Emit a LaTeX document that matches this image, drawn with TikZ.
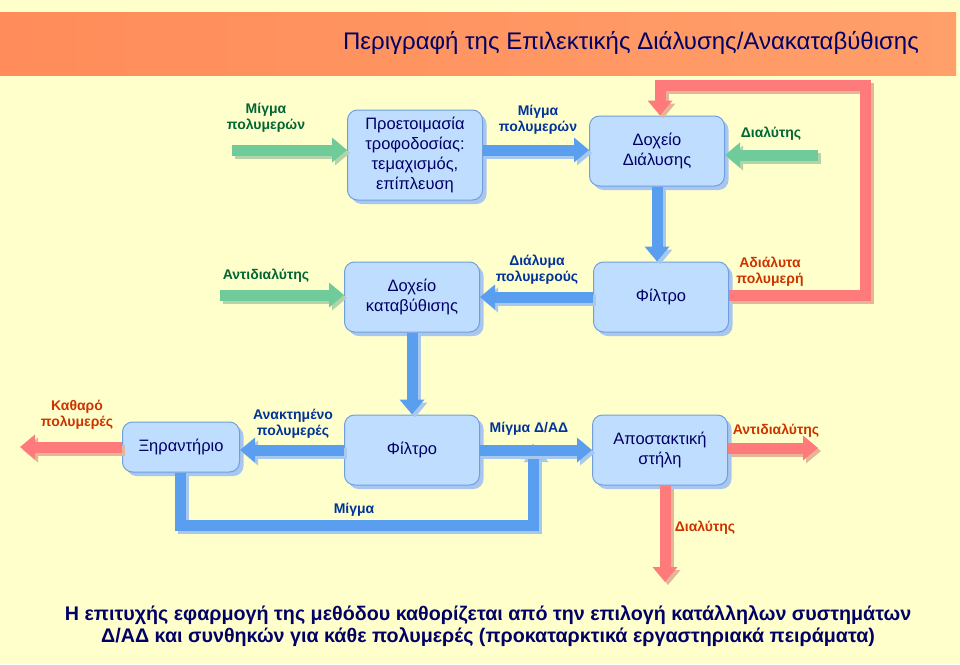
\documentclass[tikz,border=0pt]{standalone}
\usepackage{fontspec}
\setmainfont{Liberation Sans}
\usetikzlibrary{arrows.meta,shadows}
\definecolor{bg}{HTML}{FFFFCC}
\definecolor{boxf}{HTML}{BFDDFF}
\definecolor{boxd}{HTML}{6F9FE0}
\definecolor{boxs}{HTML}{A9C6EE}
\definecolor{navy}{HTML}{000066}
\definecolor{ablue}{HTML}{5A9EF0}
\definecolor{sblue}{HTML}{A9C8EE}
\definecolor{agreen}{HTML}{6FCB99}
\definecolor{sgreen}{HTML}{B5D2A8}
\definecolor{ared}{HTML}{FF7A7A}
\definecolor{sred}{HTML}{E5B59A}
\definecolor{lgreen}{HTML}{006633}
\definecolor{lblue}{HTML}{003399}
\definecolor{lred}{HTML}{CC3300}
\definecolor{tbarL}{HTML}{FF8C5A}
\definecolor{tbarR}{HTML}{FF9F6A}
\tikzset{
 box/.style={draw=boxd,fill=boxf,rounded corners=10pt,line width=1pt,align=center,text=navy,font=\fontsize{16.5}{20}\selectfont,minimum width=135pt,minimum height=70pt,inner sep=2pt,
   drop shadow={shadow xshift=4pt,shadow yshift=-4pt,fill=boxs,opacity=1}},
 fa/.style={line width=11pt,line join=miter,-{Triangle[width=24pt,length=15pt]}},
 fl/.style={line width=11pt,line join=miter},
 lab/.style={font=\bfseries\fontsize{14}{16}\selectfont,align=center}
}
\newcommand\sarrow[3]{\draw[fa,draw=#2,transform canvas={shift={(3pt,-3pt)}}] #3; \draw[fa,draw=#1] #3;}
\begin{document}
\begin{tikzpicture}[x=1pt,y=-1pt]
\useasboundingbox (0,0) rectangle (960,664);
\fill[bg] (0,0) rectangle (960,664);
\shade[left color=tbarL,right color=tbarR] (0,12) rectangle (956,75);
\node[text=navy,font=\fontsize{24}{28}\selectfont] (title) at (631,43) {Περιγραφή της Επιλεκτικής Διάλυσης/Ανακαταβύθισης};
% boxes
\node[box,minimum height=90pt] (B1) at (415,155) {Προετοιμασία\\τροφοδοσίας:\\τεμαχισμός,\\επίπλευση};
\node[box] (B2) at (657,151) {Δοχείο\\Διάλυσης};
\node[box] (B3) at (412,297) {Δοχείο\\καταβύθισης};
\node[box] (B4) at (661,297) {Φίλτρο};
\node[box,minimum width=117pt,minimum height=50pt] (B5) at (181,447) {Ξηραντήριο};
\node[box] (B6) at (412,450) {Φίλτρο};
\node[box] (B7) at (660,450) {Αποστακτική\\στήλη};
% coordinates
\coordinate (g1) at (232,150);
\coordinate (g2) at (818,155);
\coordinate (g3) at (220,295);
\coordinate (rc1) at (865,295);
\coordinate (rc2) at (865,85);
\coordinate (rc3) at (660,85);
\coordinate (r2) at (20,447);
\coordinate (r3) at (818,448);
\coordinate (r4) at (665,582);
\coordinate (p1) at (180,525);
\coordinate (p2) at (533,525);
% arrows
\sarrow{agreen}{sgreen}{(g1) -- (B1.west|-g1)}
\sarrow{ablue}{sblue}{(B1.east|-g1) -- (B2.west|-g1)}
\sarrow{agreen}{sgreen}{(g2) -- (B2.east|-g2)}
\sarrow{ablue}{sblue}{(B2.south) -- (B4.north-|B2.south)}
\sarrow{ared}{sred}{(B4.east|-rc1) -- (rc1) -- (rc2) -- (rc3) -- (B2.north-|rc3)}
\sarrow{ablue}{sblue}{(B4.west) -- (B3.east)}
\sarrow{agreen}{sgreen}{(g3) -- (B3.west|-g3)}
\sarrow{ablue}{sblue}{(B3.south) -- (B6.north)}
\sarrow{ablue}{sblue}{(B6.west) -- (B5.east|-B6.west)}
\sarrow{ared}{sred}{(B5.west) -- (r2)}
\sarrow{ablue}{sblue}{(B5.south-|p1) -- (p1) -- (p2) -- ([yshift=6pt]p2|-B7.west)}
\sarrow{ablue}{sblue}{(B6.east) -- (B7.west)}
\sarrow{ared}{sred}{(B7.east|-r3) -- (r3)}
\sarrow{ared}{sred}{(B7.south-|r4) -- (r4)}
% labels
\node[lab,text=lgreen] (l1) at (266,118) {Μίγμα\\πολυμερών};
\node[lab,text=lblue] (l2) at (538,120) {Μίγμα\\πολυμερών};
\node[lab,text=lgreen] (l3) at (771,134) {Διαλύτης};
\node[lab,text=lred] (l4) at (770,272) {Αδιάλυτα\\πολυμερή};
\node[lab,text=lblue] (l5) at (537,270) {Διάλυμα\\πολυμερούς};
\node[lab,text=lgreen] (l6) at (266,276) {Αντιδιαλύτης};
\node[lab,text=lred] (l7) at (77,415) {Καθαρό\\πολυμερές};
\node[lab,text=lblue] (l8) at (293,424) {Ανακτημένο\\πολυμερές};
\node[lab,text=lblue] (l9) at (529,429) {Μίγμα Δ/ΑΔ};
\node[lab,text=lred] (l10) at (776,431) {Αντιδιαλύτης};
\node[lab,text=lblue] (l11) at (354,510) {Μίγμα};
\node[lab,text=lred] (l12) at (705,528) {Διαλύτης};
\node[font=\bfseries\fontsize{19.7}{22.5}\selectfont,text=navy,align=center] (foot) at (488,626) {Η επιτυχής εφαρμογή της μεθόδου καθορίζεται από την επιλογή κατάλληλων συστημάτων\\Δ/ΑΔ και συνθηκών για κάθε πολυμερές (προκαταρκτικά εργαστηριακά πειράματα)};
\end{tikzpicture}
\end{document}
